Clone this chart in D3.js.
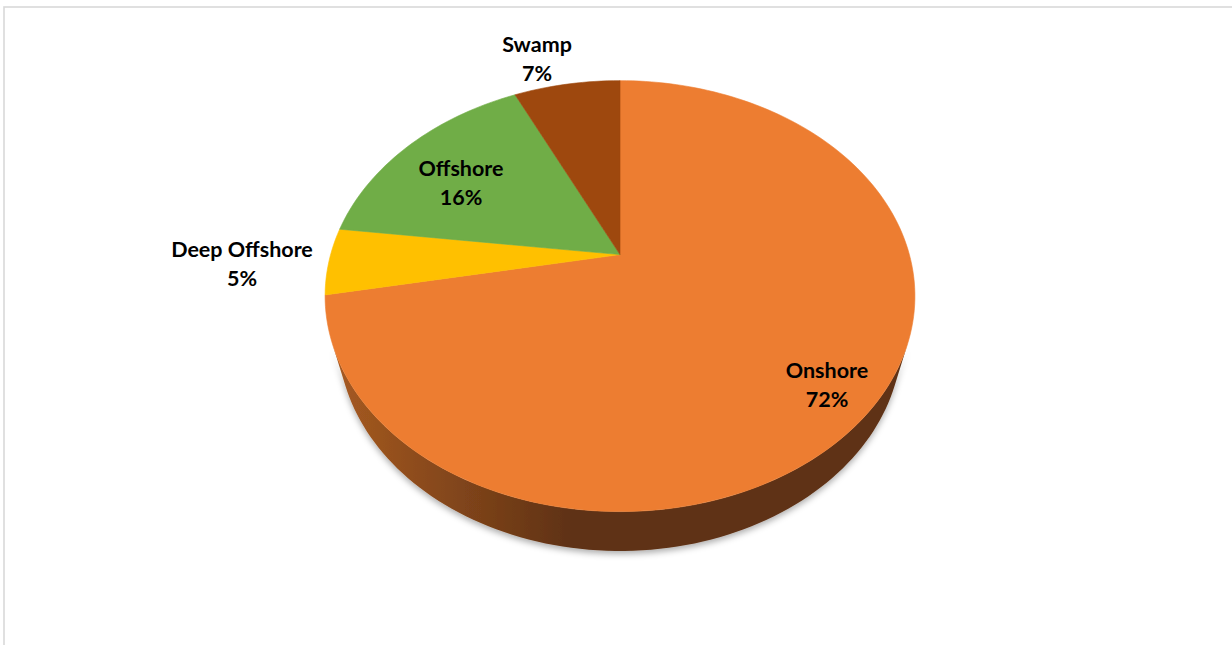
<!DOCTYPE html>
<html>
<head>
<meta charset="utf-8">
<script src="https://cdn.jsdelivr.net/npm/d3@7/dist/d3.min.js"></script>
<style>
  html, body { margin: 0; padding: 0; background: #ffffff; }
  svg { display: block; }
  text { font-family: Lato, "Noto Sans", sans-serif; font-weight: 700; }
</style>
</head>
<body>
<svg id="chart" width="1232" height="645"></svg>
<script>
// Production share by terrain
const categories = ["Onshore", "Deep Offshore", "Offshore", "Swamp"];
const shares = [72, 5, 16, 7];
const topColors = ["#ED7D31", "#FFC000", "#70AD47", "#9E480E"];
const sideColors = [["#a65a21", "#5e3114"], ["#b38600", "#7a5c00"], ["#4f7a32", "#3a5a25"], ["#6f330a", "#4a2207"]];

// Label anchor points (centre of the two-line label block, first baseline)
const labelPos = [[827, 378], [242, 257], [461, 176], [537, 52]];

const W = 1232, H = 645;
const svg = d3.select("#chart");

// Chart frame
svg.append("rect")
  .attr("x", 4).attr("y", 7)
  .attr("width", W + 10).attr("height", H + 10)
  .attr("fill", "#ffffff")
  .attr("stroke", "#d9d9d9").attr("stroke-width", 1.6);

// Perspective 3-D pie: unit disk in the X/Y plane, thickness hDepth downwards
const cam = { cx: 620, cy: 254.6, D: 3.618, f: 1047, tilt: 45.8 * Math.PI / 180 };
const hDepth = 0.2225;
const sA = Math.sin(cam.tilt), cA = Math.cos(cam.tilt);

function project(theta, r, z) {
  const X = r * Math.sin(theta), Y = r * Math.cos(theta), Z = z;
  const d = cam.D + Y * cA - Z * sA;
  return [cam.cx + cam.f * X / d, cam.cy - cam.f * (Y * sA + Z * cA) / d];
}

const arcs = d3.pie().sort(null).value(d => d)(shares);

// Range of angles where the outer wall faces the viewer
const limit = Math.acos(-1 / (cam.D * cA));
const visLo = limit, visHi = 2 * Math.PI - limit;

const defs = svg.append("defs");
const shadow = defs.append("filter").attr("id", "wallShadow")
  .attr("x", "-10%").attr("y", "-10%").attr("width", "120%").attr("height", "140%");
shadow.append("feDropShadow")
  .attr("dx", 0).attr("dy", 3).attr("stdDeviation", 3.2)
  .attr("flood-color", "#000").attr("flood-opacity", 0.32);

sideColors.forEach((c, i) => {
  const g = defs.append("linearGradient").attr("id", "wall" + i)
    .attr("gradientUnits", "userSpaceOnUse")
    .attr("x1", 335).attr("y1", 0).attr("x2", 575).attr("y2", 0);
  g.append("stop").attr("offset", 0).attr("stop-color", c[0]);
  g.append("stop").attr("offset", 1).attr("stop-color", c[1]);
});

const line = d3.line().curve(d3.curveLinear);
const steps = 240;

function arcPoints(a0, a1, r, z) {
  const pts = [];
  const n = Math.max(2, Math.ceil(steps * Math.abs(a1 - a0) / (2 * Math.PI)));
  for (let k = 0; k <= n; k++) pts.push(project(a0 + (a1 - a0) * k / n, r, z));
  return pts;
}

// Outer walls
const wallG = svg.append("g");
arcs.forEach((a, i) => {
  const lo = Math.max(a.startAngle, visLo), hi = Math.min(a.endAngle, visHi);
  if (hi <= lo) return;
  const pts = arcPoints(lo, hi, 1, 0).concat(arcPoints(hi, lo, 1, -hDepth));
  wallG.append("path")
    .attr("d", line(pts) + "Z")
    .attr("fill", "url(#wall" + i + ")")
    .attr("filter", "url(#wallShadow)");
});

// Top faces
const topG = svg.append("g");
arcs.forEach((a, i) => {
  const pts = [project(0, 0, 0)].concat(arcPoints(a.startAngle, a.endAngle, 1, 0));
  topG.append("path")
    .attr("d", line(pts) + "Z")
    .attr("fill", topColors[i])
    .attr("stroke", topColors[i]).attr("stroke-width", 0.6)
    .attr("stroke-linejoin", "round");
});

// Data labels
const fmt = d3.format(".0%");
const total = d3.sum(shares);
const labelG = svg.append("g");
arcs.forEach((a, i) => {
  const t = labelG.append("text")
    .attr("x", labelPos[i][0]).attr("y", labelPos[i][1])
    .attr("text-anchor", "middle")
    .attr("font-size", "21.5px")
    .attr("fill", "#000");
  t.append("tspan").attr("x", labelPos[i][0]).text(categories[i]);
  t.append("tspan").attr("x", labelPos[i][0]).attr("dy", 29).text(fmt(shares[i] / total));
});
</script>
</body>
</html>
